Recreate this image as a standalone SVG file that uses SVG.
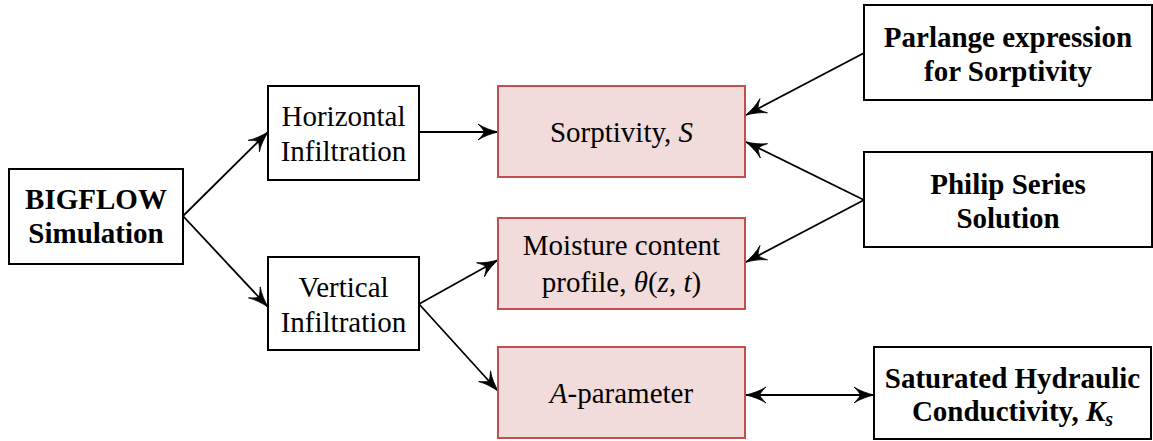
<svg xmlns="http://www.w3.org/2000/svg" width="1153" height="441" viewBox="0 0 1153 441">
<defs>
<marker id="ah" viewBox="-22 -10 24 20" refX="0" refY="0" markerWidth="24" markerHeight="20" markerUnits="userSpaceOnUse" orient="auto-start-reverse">
<path d="M 0,0 C -6,-1.5 -14,-4 -20,-8 C -16,-4 -14,-1.5 -14,0 C -14,1.5 -16,4 -20,8 C -14,4 -6,1.5 0,0 Z" fill="#000" stroke="#000" stroke-width="0.8" stroke-linejoin="round"/>
</marker>
<style>
.w{fill:#fff;stroke:#000;stroke-width:2}
.p{fill:#f2dcdb;stroke:#c0504d;stroke-width:2}
text{font-family:'Liberation Serif','Times New Roman','DejaVu Serif',serif;font-size:29px;fill:#000;text-anchor:middle}
.b{font-weight:bold}
.i{font-style:italic}
.c line{stroke:#000;stroke-width:1.8;marker-end:url(#ah)}
</style>
</defs>
<rect width="1153" height="441" fill="#fff"/>
<g class="c" id="connectors">
<line x1="183" y1="216" x2="268" y2="132"/>
<line x1="183" y1="216" x2="268" y2="307"/>
<line x1="419" y1="132" x2="498" y2="132"/>
<line x1="419" y1="304" x2="498" y2="260"/>
<line x1="419" y1="304" x2="498" y2="391"/>
<line x1="864" y1="53" x2="746" y2="115"/>
<line x1="864" y1="200" x2="746" y2="142"/>
<line x1="864" y1="200" x2="746" y2="262"/>
<line x1="746" y1="395" x2="874" y2="395" style="marker-start:url(#ah)"/>
</g>
<g id="bigflow"><rect class="w" x="9" y="169" width="174" height="95"/>
<text class="b" x="96" y="209">BIGFLOW</text><text class="b" x="96" y="243">Simulation</text></g>
<g id="horizontal"><rect class="w" x="268" y="86" width="151" height="94"/>
<text x="343.5" y="126">Horizontal</text><text x="343.5" y="161">Infiltration</text></g>
<g id="vertical"><rect class="w" x="268" y="257" width="151" height="93"/>
<text x="343.5" y="297">Vertical</text><text x="343.5" y="332">Infiltration</text></g>
<g id="sorptivity"><rect class="p" x="498" y="86" width="247" height="91"/>
<text x="621.5" y="142">Sorptivity, <tspan class="i">S</tspan></text></g>
<g id="moisture"><rect class="p" x="498" y="218" width="247" height="91"/>
<text x="621.5" y="255">Moisture content</text><text x="621.5" y="292">profile, <tspan class="i">θ</tspan>(<tspan class="i">z</tspan>, <tspan class="i">t</tspan>)</text></g>
<g id="aparam"><rect class="p" x="498" y="347" width="247" height="91"/>
<text x="621.5" y="403"><tspan class="i">A</tspan>-parameter</text></g>
<g id="parlange"><rect class="w" x="864" y="5" width="288" height="95"/>
<text class="b" x="1008" y="47">Parlange expression</text><text class="b" x="1008" y="81">for Sorptivity</text></g>
<g id="philip"><rect class="w" x="864" y="152" width="288" height="95"/>
<text class="b" x="1008" y="194">Philip Series</text><text class="b" x="1008" y="228">Solution</text></g>
<g id="saturated"><rect class="w" x="874" y="347" width="277" height="92"/>
<text class="b" x="1012.5" y="388">Saturated Hydraulic</text><text class="b" x="1012.5" y="421">Conductivity, <tspan class="i">K</tspan><tspan class="i" font-size="20" dy="5">s</tspan></text></g>
</svg>
